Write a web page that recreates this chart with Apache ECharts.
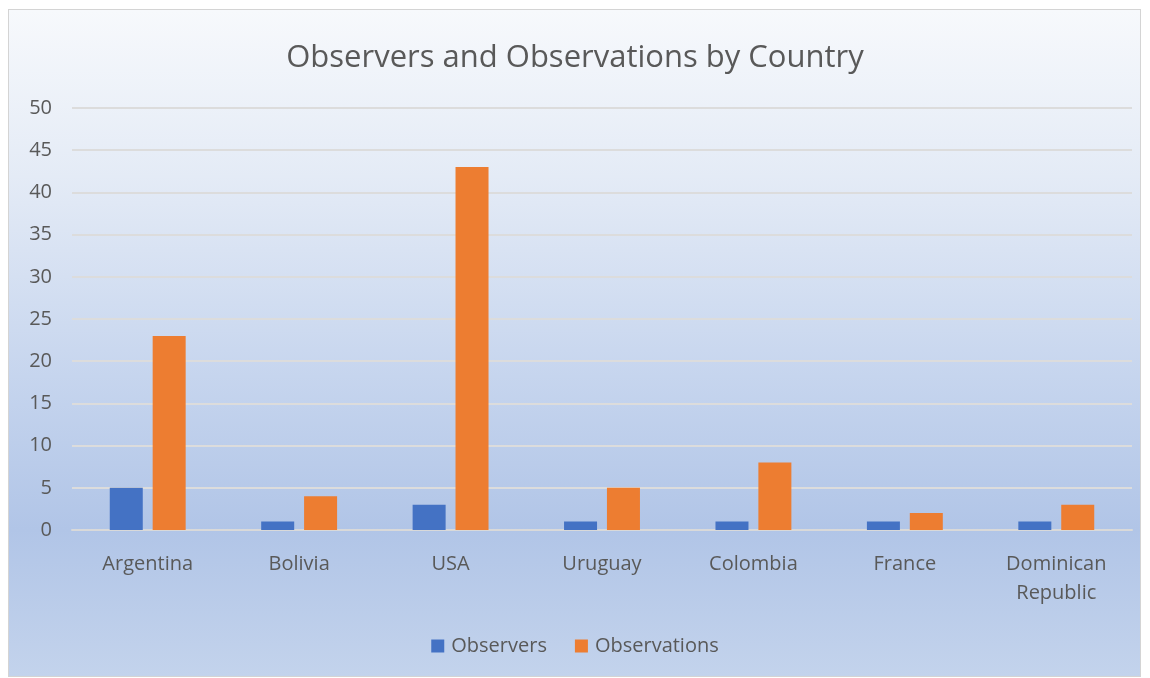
<!DOCTYPE html>
<html>
<head>
<meta charset="utf-8">
<script src="https://cdn.jsdelivr.net/npm/echarts@6/dist/echarts.min.js"></script>
<style>
html,body{margin:0;padding:0;width:1150px;height:678px;background:#fff;overflow:hidden;}
#frame{position:absolute;left:8px;top:9px;width:1131px;height:666px;border:1px solid #d4d4d4;
background:linear-gradient(to bottom,#f7f9fc 0%,#e4ebf6 25%,#c6d5ee 55%,#b1c5e7 78%,#c3d3ec 100%);}
#chart{position:absolute;left:0;top:0;width:1150px;height:678px;}
</style>
</head>
<body>
<div id="frame"></div>
<div id="chart"></div>
<script>
const categories = ['Argentina','Bolivia','USA','Uruguay','Colombia','France','Dominican\nRepublic'];
const observers = [5,1,3,1,1,1,1];
const observations = [23,4,43,5,8,2,3];
const yTicks = {min:0,max:50,interval:5};

const chart = echarts.init(document.getElementById('chart'));
const font = 'Open Sans, Noto Sans, sans-serif';
chart.setOption({
  backgroundColor:'transparent',
  title:{text:'Observers and Observations by Country',left:'center',top:38,
    textStyle:{fontFamily:font,fontSize:31,fontWeight:'normal',color:'#595959'}},
  legend:{bottom:17,left:'center',itemWidth:13,itemHeight:13,itemGap:28,icon:'rect',
    textStyle:{fontFamily:font,fontSize:20,color:'#595959',padding:[0,0,0,2]}},
  grid:{left:72,right:18,top:108,bottom:148},
  xAxis:{type:'category',data:categories,
    axisLine:{lineStyle:{color:'#d9d9d9',width:2}},axisTick:{show:false},
    axisLabel:{fontFamily:font,fontSize:20,color:'#595959',margin:20,lineHeight:29}},
  yAxis:{type:'value',min:yTicks.min,max:yTicks.max,interval:yTicks.interval,
    axisLine:{show:false},axisTick:{show:false},
    axisLabel:{fontFamily:font,fontSize:20,color:'#595959',margin:20},
    splitLine:{lineStyle:{color:'#dcdcdc',width:2}}},
  series:[
    {name:'Observers',type:'bar',data:observers,barWidth:33,barGap:'30%',itemStyle:{color:'#4472c4'}},
    {name:'Observations',type:'bar',data:observations,barWidth:33,itemStyle:{color:'#ed7d31'}}
  ]
});
</script>
</body>
</html>
